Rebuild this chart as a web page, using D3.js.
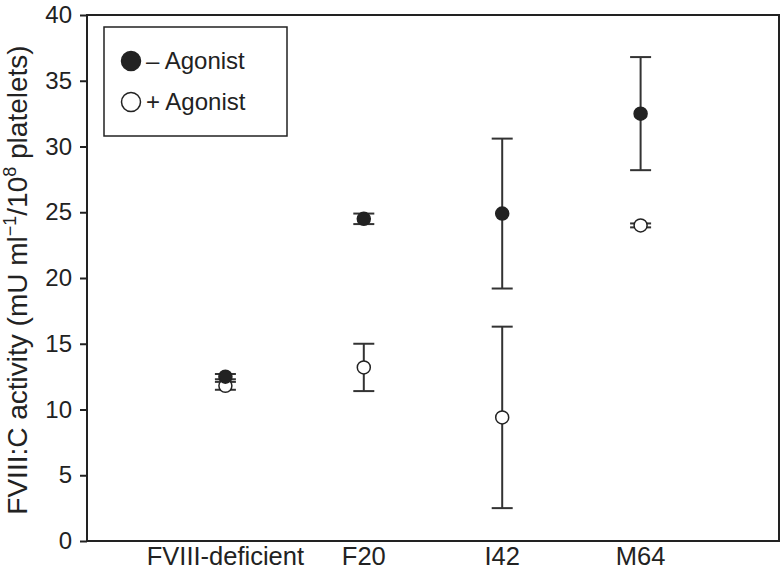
<!DOCTYPE html>
<html>
<head>
<meta charset="utf-8">
<script src="https://cdn.jsdelivr.net/npm/d3@7"></script>
<style>
  body { margin: 0; background: #fff; }
  text { font-family: "Liberation Sans", Arial, Helvetica, sans-serif; fill: #222; }
</style>
</head>
<body>
<div id="chart"></div>
<script>
// Data
var categories = ["FVIII-deficient", "F20", "I42", "M64"];
var minusMean = [12.5, 24.5, 24.9, 32.5];
var minusErr  = [0.2, 0.4, 5.7, 4.3];
var plusMean  = [11.8, 13.2, 9.4, 24.0];
var plusErr   = [0.3, 1.8, 6.9, 0.15];
var yTicks = [0, 5, 10, 15, 20, 25, 30, 35, 40];
var seriesNames = ["\u2013 Agonist", "+ Agonist"];

var W = 781, H = 572;
var margin = {top: 15, right: 2, bottom: 31, left: 87};
var width = W - margin.left - margin.right,
    height = H - margin.top - margin.bottom;

var svg = d3.select("#chart").append("svg")
    .attr("width", W)
    .attr("height", H);

var g = svg.append("g")
    .attr("transform", "translate(" + margin.left + "," + margin.top + ")");

// scales
var x = d3.scaleLinear().domain([0, categories.length + 1]).range([0, width]);
var y = d3.scaleLinear().domain([0, 40]).range([height, 0]);

// frame
g.append("rect")
    .attr("width", width)
    .attr("height", height)
    .attr("fill", "none")
    .attr("stroke", "#222")
    .attr("stroke-width", 2);

// y axis
var yAxis = g.append("g")
    .call(d3.axisLeft(y).tickValues(yTicks).tickSize(7).tickPadding(8));
yAxis.select(".domain").remove();
yAxis.selectAll("line").attr("stroke", "#222").attr("stroke-width", 2);
yAxis.selectAll("text").attr("font-size", 24).attr("font-family", null).attr("fill", "#222");

// x labels
g.selectAll(".xlab")
  .data(categories)
  .enter().append("text")
    .attr("class", "xlab")
    .attr("x", function(d, i) { return x(i + 1); })
    .attr("y", height + 24)
    .attr("text-anchor", "middle")
    .attr("font-size", 25.5)
    .text(function(d) { return d; });

// y title
var title = svg.append("text")
    .attr("transform", "translate(27," + (margin.top + height / 2 + 2) + ") rotate(-90)")
    .attr("text-anchor", "middle")
    .attr("font-size", 28);
title.append("tspan").text("FVIII:C activity (mU ml");
title.append("tspan").attr("font-size", 18).attr("dy", -11).text("\u22121");
title.append("tspan").attr("dy", 11).text("/10");
title.append("tspan").attr("font-size", 18).attr("dy", -11).text("8");
title.append("tspan").attr("dy", 11).text(" platelets)");

// error bars + points
var capW = 10.5;
function drawSeries(means, errs, fill) {
  var s = g.append("g");
  var grp = s.selectAll("g")
    .data(means.map(function(m, i) { return {i: i, m: m, e: errs[i]}; }))
    .enter().append("g");
  grp.append("line")
      .attr("x1", function(d) { return x(d.i + 1); })
      .attr("x2", function(d) { return x(d.i + 1); })
      .attr("y1", function(d) { return y(d.m - d.e); })
      .attr("y2", function(d) { return y(d.m + d.e); })
      .attr("stroke", "#333").attr("stroke-width", 2);
  [-1, 1].forEach(function(sign) {
    grp.append("line")
        .attr("x1", function(d) { return x(d.i + 1) - capW; })
        .attr("x2", function(d) { return x(d.i + 1) + capW; })
        .attr("y1", function(d) { return y(d.m + sign * d.e); })
        .attr("y2", function(d) { return y(d.m + sign * d.e); })
        .attr("stroke", "#333").attr("stroke-width", 2);
  });
  grp.append("circle")
      .attr("cx", function(d) { return x(d.i + 1); })
      .attr("cy", function(d) { return y(d.m); })
      .attr("r", 6.5)
      .attr("fill", fill)
      .attr("stroke", "#222")
      .attr("stroke-width", 1.5);
}
drawSeries(plusMean, plusErr, "#fff");
drawSeries(minusMean, minusErr, "#222");

// legend
var legend = g.append("g").attr("transform", "translate(17,12)");
legend.append("rect")
    .attr("width", 183)
    .attr("height", 109)
    .attr("fill", "#fff")
    .attr("stroke", "#222")
    .attr("stroke-width", 1.5);
seriesNames.forEach(function(name, i) {
  var ly = 34 + i * 41;
  legend.append("circle")
      .attr("cx", 27).attr("cy", ly).attr("r", 9.5)
      .attr("fill", i === 0 ? "#222" : "#fff")
      .attr("stroke", "#222").attr("stroke-width", 1.5);
  legend.append("text")
      .attr("x", 42).attr("y", ly + 8)
      .attr("font-size", 24)
      .text(name);
});
</script>
</body>
</html>
